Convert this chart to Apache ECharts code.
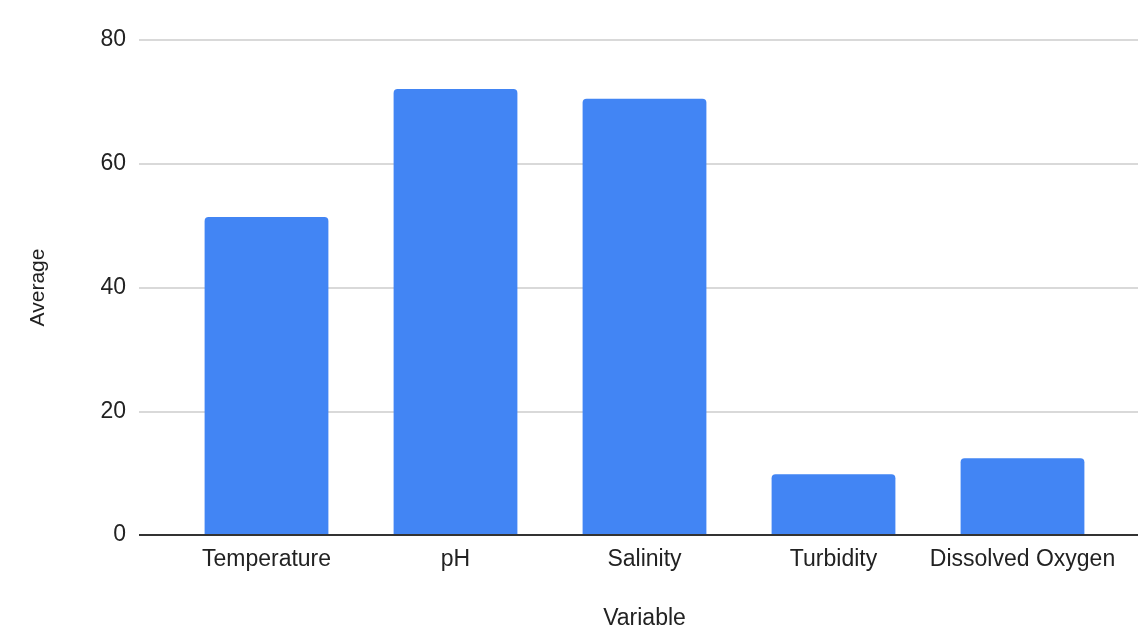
<!DOCTYPE html>
<html>
<head>
<meta charset="utf-8">
<script src="https://cdn.jsdelivr.net/npm/echarts@6/dist/echarts.min.js"></script>
<style>
html,body{margin:0;padding:0;background:#fff;}
#chart{width:1138px;height:626px;}
</style>
</head>
<body>
<div id="chart"></div>
<script>
const categories = ['Temperature', 'pH', 'Salinity', 'Turbidity', 'Dissolved Oxygen'];
const averages = [51.4, 72.1, 70.5, 9.8, 12.4];
const yTicks = [0, 20, 40, 60, 80];
const xAxisTitle = 'Variable';
const yAxisTitle = 'Average';

const font = 'Liberation Sans, Arial, Helvetica, sans-serif';
const chart = echarts.init(document.getElementById('chart'), null, {renderer: 'canvas'});
chart.setOption({
  backgroundColor: '#ffffff',
  animation: false,
  grid: [
    {left: 139, right: 0, top: 40, bottom: 91, containLabel: false, outerBoundsMode: 'none'},
    {left: 172, right: 21, top: 40, bottom: 91, containLabel: false, outerBoundsMode: 'none'}
  ],
  xAxis: [
    {
      gridIndex: 0, type: 'value', min: 0, max: 1, show: true,
      axisLine: {show: false}, axisTick: {show: false}, axisLabel: {show: false}, splitLine: {show: false}
    },
    {
      gridIndex: 1, type: 'category', data: categories,
      axisLine: {show: false}, axisTick: {show: false},
      axisLabel: {color: '#222', fontSize: 23, fontFamily: font, margin: 13, interval: 0},
      name: xAxisTitle, nameLocation: 'middle', nameGap: 72,
      nameTextStyle: {color: '#222', fontSize: 23, fontFamily: font}
    }
  ],
  yAxis: [
    {
      gridIndex: 0, type: 'value', min: yTicks[0], max: yTicks[yTicks.length - 1], interval: 20,
      axisLine: {show: false}, axisTick: {show: false},
      axisLabel: {color: '#222', fontSize: 23, fontFamily: font, margin: 13},
      splitLine: {show: true, lineStyle: {color: '#cccccc', width: 1.5}},
      name: yAxisTitle, nameLocation: 'middle', nameGap: 90, nameRotate: 90,
      nameTextStyle: {color: '#222', fontSize: 21, fontFamily: font}
    },
    {
      gridIndex: 1, type: 'value', min: yTicks[0], max: yTicks[yTicks.length - 1], interval: 20,
      show: false, splitLine: {show: false}
    }
  ],
  series: [
    {
      type: 'line', xAxisIndex: 0, yAxisIndex: 0,
      data: [[0, 0], [1, 0]], symbol: 'none', silent: true,
      lineStyle: {color: '#333333', width: 2}, z: 5
    },
    {
      type: 'bar', xAxisIndex: 1, yAxisIndex: 1,
      data: averages, barCategoryGap: '34.5%',
      itemStyle: {color: '#4285f4', borderRadius: [4, 4, 0, 0]}, z: 3
    }
  ]
});
</script>
</body>
</html>
